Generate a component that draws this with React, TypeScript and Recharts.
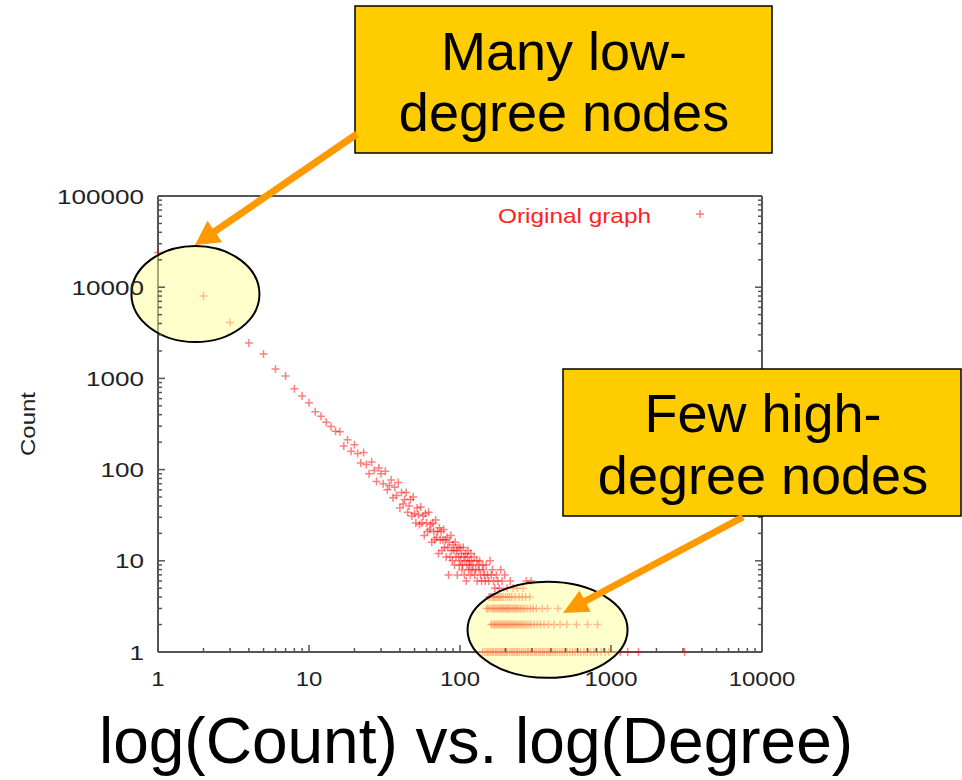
import React from 'react';
import { ScatterChart, Scatter, XAxis, YAxis, ReferenceDot, Legend } from 'recharts';

const FONT = '"Liberation Sans", Arial, Helvetica, sans-serif';
const AXIS_COLOR = '#555555';
const POINT_COLOR = '#ff0000';

// axis ticks (log scales, minor ticks included)
const degreeTicks = [
  1, 2, 3, 4, 5, 6, 7, 8, 9,
  10, 20, 30, 40, 50, 60, 70, 80, 90,
  100, 200, 300, 400, 500, 600, 700, 800, 900,
  1000, 2000, 3000, 4000, 5000, 6000, 7000, 8000, 9000,
  10000,
];
const countTicks = [
  1, 2, 3, 4, 5, 6, 7, 8, 9,
  10, 20, 30, 40, 50, 60, 70, 80, 90,
  100, 200, 300, 400, 500, 600, 700, 800, 900,
  1000, 2000, 3000, 4000, 5000, 6000, 7000, 8000, 9000,
  10000, 20000, 30000, 40000, 50000, 60000, 70000, 80000, 90000,
  100000,
];
const majorTicks = [1, 10, 100, 1000, 10000, 100000];

// degree distribution
const diagonalDegrees = [
  1, 2, 3, 4, 5, 6, 7, 8, 9, 10, 11, 12, 13, 14, 15, 16, 17, 18, 19, 20,
  21, 22, 23, 24, 25, 26, 27, 28, 29, 30, 31, 32, 33, 34, 35, 36, 37, 38, 39, 40,
  41, 42, 43, 44, 45, 46, 47, 48, 49, 50, 51, 52, 53, 54, 55, 56, 57, 58, 59, 60,
  61, 62, 63, 64, 65, 66, 67, 68, 69, 70, 71, 72, 73, 74, 75, 76, 77, 78, 79, 80,
  81, 82, 83, 84, 85, 86, 87, 88, 89, 90, 91, 92, 93, 94, 95, 96, 97, 98, 99, 100,
  101, 102, 103, 104, 105, 106, 107, 108, 109, 110, 111, 112, 113, 114, 115, 116, 117, 118, 119, 120,
  122, 124, 125, 127, 129, 130, 132, 134, 135, 137, 139, 141, 143, 145, 147, 149,
  152, 155, 158, 161, 164, 167, 170, 174, 178, 182, 186, 190, 198, 205, 215, 225,
  240, 262, 275, 296,
];
const diagonalCounts = [
  24000, 8000, 4100, 2450, 1850, 1270, 1060, 770, 640, 540, 430, 385, 330, 296, 264, 260, 182, 213, 159, 187,
  150, 118, 154, 114, 90, 121, 98, 74, 104, 90, 70, 96, 60, 67, 77, 49, 64, 52, 72, 38,
  56, 42, 47, 56, 34, 40, 47, 31, 50, 33, 26, 38, 32, 25, 39, 26, 31, 19, 33, 26,
  21, 34, 22, 25, 16, 26, 21, 17, 28, 18, 21, 12, 23, 17, 21, 13, 17, 22, 14, 17,
  11, 18, 14, 7, 16, 11, 19, 13, 10, 15, 13, 9, 16, 11, 13, 7, 14, 11, 9, 14,
  10, 12, 8, 9, 14, 11, 7, 10, 12, 6, 9, 11, 13, 8, 10, 9, 7, 12, 10, 8,
  9, 11, 7, 8, 10, 6, 9, 8, 10, 7, 6, 9, 8, 7, 6, 9,
  7, 6, 10, 7, 8, 6, 5, 7, 6, 5, 8, 6, 7, 5, 6, 5,
  5, 5, 6, 6,
];
const countFourDegrees = [156, 160, 165, 168, 172, 176, 180, 184, 188, 193, 200, 207, 213, 220, 232, 246, 258, 272, 290];
const countThreeDegrees = [
  150, 153, 157, 162, 166, 169, 173, 177, 181, 185, 189, 192, 196, 201, 204, 209, 212,
  218, 223, 228, 234, 238, 245, 252, 260, 268, 280, 292, 305, 320, 350, 380, 445,
];
const countTwoDegrees = [
  161, 163, 168, 171, 175, 179, 183, 187, 191, 195, 199, 203, 207, 211, 216, 221, 226, 231, 236,
  243, 249, 255, 262, 270, 278, 287, 296, 310, 325, 340, 360, 385, 420, 460, 510, 590, 700, 815,
];
const countOneDegrees = [
  141, 146, 151, 154, 159, 163, 166, 171, 174, 178, 183, 187, 192, 197, 202, 206, 213, 219, 224, 230,
  237, 241, 248, 256, 263, 271, 279, 284, 293, 301, 312, 320, 331, 341, 352, 361, 375, 388, 398, 413,
  427, 441, 458, 475, 493, 512, 534, 556, 578, 603, 630, 662, 695, 731, 770, 812, 860, 915, 968,
  1150, 1290, 1520, 3070,
];

const points = [
  ...diagonalDegrees.map((d, i) => ({ degree: d, count: diagonalCounts[i] })),
  ...countFourDegrees.map((d) => ({ degree: d, count: 4 })),
  ...countThreeDegrees.map((d) => ({ degree: d, count: 3 })),
  ...countTwoDegrees.map((d) => ({ degree: d, count: 2 })),
  ...countOneDegrees.map((d) => ({ degree: d, count: 1 })),
];

const isMajor = (v: number) => majorTicks.includes(v);

const PlusShape = (props: any) => {
  const { cx, cy } = props;
  if (cx == null || cy == null) return null;
  return (
    <path
      d={`M${cx - 4},${cy}h8M${cx},${cy - 4}v8`}
      stroke={POINT_COLOR}
      strokeOpacity={0.5}
      strokeWidth={1.5}
      fill="none"
    />
  );
};

const tickText = { fontFamily: FONT, fontSize: 21, fill: '#222' };

const BottomTick = ({ x, y, payload }: any) => {
  const v = payload.value;
  const major = isMajor(v);
  const label = String(v);
  return (
    <g>
      <line x1={x} x2={x} y1={y} y2={y - (major ? 7 : 4)} stroke={AXIS_COLOR} strokeWidth={1.5} />
      {major && (
        <text x={x} y={y + 34} textAnchor="middle" textLength={label.length * 13.3} lengthAdjust="spacingAndGlyphs" {...tickText}>
          {label}
        </text>
      )}
    </g>
  );
};

const TopTick = ({ x, y, payload }: any) => {
  const major = isMajor(payload.value);
  return <line x1={x} x2={x} y1={y} y2={y + (major ? 7 : 4)} stroke={AXIS_COLOR} strokeWidth={1.5} />;
};

const LeftTick = ({ x, y, payload }: any) => {
  const v = payload.value;
  const major = isMajor(v);
  const label = String(v);
  return (
    <g>
      <line x1={x} x2={x + (major ? 7 : 4)} y1={y} y2={y} stroke={AXIS_COLOR} strokeWidth={1.5} />
      {major && (
        <text x={x - 14} y={y + 7.5} textAnchor="end" textLength={label.length * 14.5} lengthAdjust="spacingAndGlyphs" {...tickText}>
          {label}
        </text>
      )}
    </g>
  );
};

const RightTick = ({ x, y, payload }: any) => {
  const major = isMajor(payload.value);
  return <line x1={x} x2={x - (major ? 7 : 4)} y1={y} y2={y} stroke={AXIS_COLOR} strokeWidth={1.5} />;
};

const CountLabel = (props: any) => {
  const vb = props.viewBox || {};
  const x = vb.x + vb.width - 123;
  const y = vb.y + vb.height / 2;
  return (
    <text
      x={x}
      y={y}
      transform={`rotate(-90 ${x} ${y})`}
      textAnchor="middle"
      textLength={64}
      lengthAdjust="spacingAndGlyphs"
      {...tickText}
    >
      Count
    </text>
  );
};

const LegendContent = () => (
  <svg width={230} height={32} style={{ display: 'block', overflow: 'visible' }}>
    <text x={8} y={25} fontFamily={FONT} fontSize={21} fill="#ff2020" textLength={153} lengthAdjust="spacingAndGlyphs">
      Original graph
    </text>
    <path d="M206,16h8M210,12v8" stroke={POINT_COLOR} strokeOpacity={0.5} strokeWidth={1.5} />
  </svg>
);

const ellipseShape = (rx: number, ry: number) => (p: any) => (
  <ellipse cx={p.cx} cy={p.cy} rx={rx} ry={ry} fill="#ffff99" fillOpacity={0.5} stroke="#000" strokeWidth={2} />
);

// arrow outline as a polygon from start to tip
function arrowPoints(x1: number, y1: number, x2: number, y2: number, shaft: number, headLen: number, headW: number) {
  const len = Math.hypot(x2 - x1, y2 - y1);
  const ux = (x2 - x1) / len;
  const uy = (y2 - y1) / len;
  const nx = -uy;
  const ny = ux;
  const bx = x2 - ux * headLen;
  const by = y2 - uy * headLen;
  const pts = [
    [x1 + (nx * shaft) / 2, y1 + (ny * shaft) / 2],
    [bx + (nx * shaft) / 2, by + (ny * shaft) / 2],
    [bx + (nx * headW) / 2, by + (ny * headW) / 2],
    [x2, y2],
    [bx - (nx * headW) / 2, by - (ny * headW) / 2],
    [bx - (nx * shaft) / 2, by - (ny * shaft) / 2],
    [x1 - (nx * shaft) / 2, y1 - (ny * shaft) / 2],
  ];
  return pts.map((p) => p.join(',')).join(' ');
}

const boxText = { fontFamily: FONT, fontSize: 54, fill: '#000', textAnchor: 'middle' as const };

export default function App() {
  return (
    <div style={{ position: 'absolute', left: 0, top: 0, width: 962, height: 780, background: '#fff' }}>
      <ScatterChart width={962} height={780} margin={{ top: 186, right: 190, bottom: 88, left: 98 }}>
        <XAxis
          xAxisId="x"
          dataKey="degree"
          type="number"
          scale="log"
          domain={[1, 10000]}
          ticks={degreeTicks}
          interval={0}
          height={40}
          tickSize={0}
          tickMargin={0}
          tickLine={false}
          axisLine={{ stroke: AXIS_COLOR, strokeWidth: 2 }}
          tick={<BottomTick />}
        />
        <XAxis
          xAxisId="top"
          orientation="top"
          type="number"
          scale="log"
          domain={[1, 10000]}
          allowDataOverflow
          ticks={degreeTicks}
          interval={0}
          height={10}
          tickSize={0}
          tickMargin={0}
          tickLine={false}
          axisLine={{ stroke: AXIS_COLOR, strokeWidth: 2 }}
          tick={<TopTick />}
        />
        <YAxis
          yAxisId="y"
          dataKey="count"
          type="number"
          scale="log"
          domain={[1, 100000]}
          ticks={countTicks}
          interval={0}
          width={60}
          tickSize={0}
          tickMargin={0}
          tickLine={false}
          axisLine={{ stroke: AXIS_COLOR, strokeWidth: 2 }}
          tick={<LeftTick />}
          label={<CountLabel />}
        />
        <YAxis
          yAxisId="right"
          orientation="right"
          type="number"
          scale="log"
          domain={[1, 100000]}
          allowDataOverflow
          ticks={countTicks}
          interval={0}
          width={10}
          tickSize={0}
          tickMargin={0}
          tickLine={false}
          axisLine={{ stroke: AXIS_COLOR, strokeWidth: 2 }}
          tick={<RightTick />}
        />
        <Legend
          layout="horizontal"
          verticalAlign="middle"
          align="center"
          wrapperStyle={{ left: 490, top: 198, width: 230 }}
          content={<LegendContent />}
        />
        <Scatter
          name="Original graph"
          data={points}
          xAxisId="x"
          yAxisId="y"
          shape={<PlusShape />}
          isAnimationActive={false}
        />
        <ReferenceDot xAxisId="x" yAxisId="y" x={1.77} y={8400} r={1} shape={ellipseShape(64, 48)} />
        <ReferenceDot xAxisId="x" yAxisId="y" x={380} y={1.75} r={1} shape={ellipseShape(80, 48)} />
      </ScatterChart>

      <svg width={962} height={780} style={{ position: 'absolute', left: 0, top: 0, pointerEvents: 'none' }}>
        <rect x={355} y={6} width={417} height={147} fill="#ffcc00" stroke="#000" strokeWidth={1.5} />
        <text x={564} y={70} {...boxText}>Many low-</text>
        <text x={564} y={131} {...boxText}>degree nodes</text>

        <rect x={563} y={369} width={398} height={147} fill="#ffcc00" stroke="#000" strokeWidth={1.5} />
        <text x={763} y={432} {...boxText}>Few high-</text>
        <text x={763} y={494} {...boxText}>degree nodes</text>

        <polygon points={arrowPoints(357, 134, 195, 245, 7, 24, 26)} fill="#ff9900" />
        <polygon points={arrowPoints(743, 517, 563, 613, 7, 25, 24)} fill="#ff9900" />

        <text x={476} y={763} fontFamily={FONT} fontSize={64} fill="#000" textAnchor="middle">
          log(Count) vs. log(Degree)
        </text>
      </svg>
    </div>
  );
}
